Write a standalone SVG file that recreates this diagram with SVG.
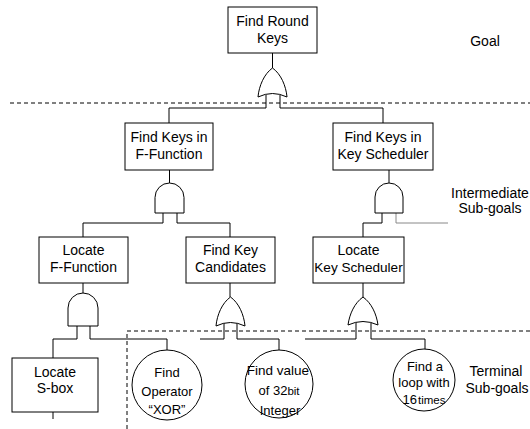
<svg xmlns="http://www.w3.org/2000/svg" width="530" height="429" viewBox="0 0 530 429">
  <style>
    .box { fill: #fff; stroke: #000; stroke-width: 1; }
    .gate { fill: #fff; stroke: #000; stroke-width: 1; }
    .wire { fill: none; stroke: #000; stroke-width: 1; }
    .dash { fill: none; stroke: #000; stroke-width: 1; stroke-dasharray: 4 3; }
    .lbl { font-family: "Liberation Sans", Arial, sans-serif; font-size: 14px; fill: #000; text-anchor: middle; }
    .ctx { font-family: "Liberation Sans", Arial, sans-serif; font-size: 13px; fill: #000; text-anchor: middle; }
    .small { font-size: 11.5px; }
  </style>

  <!-- level separators -->
  <g id="levels">
    <path class="dash" d="M10,103 H530"/>
    <path class="dash" d="M127,429 V331 H530"/>
  </g>

  <!-- connectors -->
  <g id="connectors">
    <path class="wire" d="M272.5,53 V68"/>
    <path class="wire" d="M266,95 V108 H169 V123"/>
    <path class="wire" d="M280,95 V108 H383 V123"/>

    <path class="wire" d="M169.5,170 V183"/>
    <path class="wire" d="M163,213 V223 H83 V237"/>
    <path class="wire" d="M177,213 V223 H230 V237"/>

    <path class="wire" d="M389,170 V183"/>
    <path class="wire" d="M382,213 V223 H363 V237"/>
    <path class="wire" d="M396,213 V223 H448" style="stroke:#888"/>

    <path class="wire" d="M83,283 V293"/>
    <path class="wire" d="M77,326 V339 H53 V358"/>
    <path class="wire" d="M90,326 V339 H167 V350"/>
    <path class="wire" d="M53,412 V419"/>

    <path class="wire" d="M230,283 V297"/>
    <path class="wire" d="M224,323 V339 H200"/>
    <path class="wire" d="M237,323 V339 H279 V350"/>

    <path class="wire" d="M363,283 V297"/>
    <path class="wire" d="M356,322 V339 H305"/>
    <path class="wire" d="M371,322 V339 H425 V350"/>
  </g>

  <!-- gates -->
  <g id="gate-or-top">
    <path class="gate" d="M272.5,68 C264,74 259,86 258,97 Q272.5,90 287,97 C286,86 281,74 272.5,68 Z"/>
  </g>
  <g id="gate-and-ffunc">
    <path class="gate" d="M155,213 V197.5 A14.5,14.5 0 0 1 184,197.5 V213 Z"/>
  </g>
  <g id="gate-and-ksched">
    <path class="gate" d="M375,213 V197 A14,14 0 0 1 403,197 V213 Z"/>
  </g>
  <g id="gate-and-locate">
    <path class="gate" d="M68,326 V308 A15,15 0 0 1 98,308 V326 Z"/>
  </g>
  <g id="gate-or-cand">
    <path class="gate" d="M230.5,297 C222,303 217,315 216,326 Q230.5,319 245,326 C244,315 239,303 230.5,297 Z"/>
  </g>
  <g id="gate-or-locks">
    <path class="gate" d="M363,297 C354.5,303 349.5,314 348,325 Q363,318 378,325 C376.5,314 371.5,303 363,297 Z"/>
  </g>

  <!-- goal -->
  <g id="find-round-keys">
    <rect class="box" x="228" y="7" width="89" height="46"/>
    <text class="lbl" x="272.5" y="26">Find Round</text>
    <text class="lbl" x="272.5" y="43">Keys</text>
  </g>

  <!-- intermediate sub-goals -->
  <g id="find-keys-ffunc">
    <rect class="box" x="125" y="123" width="88" height="47"/>
    <text class="lbl" x="169" y="142">Find Keys in</text>
    <text class="lbl" x="169" y="159">F-Function</text>
  </g>
  <g id="find-keys-ksched">
    <rect class="box" x="333" y="123" width="100" height="47"/>
    <text class="lbl" x="383" y="142">Find Keys in</text>
    <text class="lbl" x="383" y="159">Key Scheduler</text>
  </g>
  <g id="locate-ffunc">
    <rect class="box" x="39" y="237" width="89" height="46"/>
    <text class="lbl" x="83.5" y="255">Locate</text>
    <text class="lbl" x="83.5" y="272">F-Function</text>
  </g>
  <g id="find-key-cand">
    <rect class="box" x="186" y="237" width="89" height="46"/>
    <text class="lbl" x="230.5" y="255">Find Key</text>
    <text class="lbl" x="230.5" y="272">Candidates</text>
  </g>
  <g id="locate-ksched">
    <rect class="box" x="313" y="237" width="91" height="46"/>
    <text class="lbl" x="358.5" y="255">Locate</text>
    <text class="lbl" x="358.5" y="272" style="font-size:13.6px">Key Scheduler</text>
  </g>
  <g id="locate-sbox">
    <rect class="box" x="12" y="358" width="86" height="54"/>
    <text class="lbl" x="55" y="377">Locate</text>
    <text class="lbl" x="55" y="393">S-box</text>
  </g>

  <!-- terminal sub-goals -->
  <g id="find-xor">
    <circle class="box" cx="167" cy="385" r="35"/>
    <text class="ctx" x="167" y="377">Find</text>
    <text class="ctx" x="167" y="396">Operator</text>
    <text class="ctx" x="167" y="414">“XOR”</text>
  </g>
  <g id="find-value">
    <circle class="box" cx="279" cy="384" r="34"/>
    <text class="ctx" x="278" y="375" style="font-size:13.5px">Find value</text>
    <text class="ctx" x="279" y="395">of 32<tspan class="small">bit</tspan></text>
    <text class="ctx" x="280" y="415">Integer</text>
  </g>
  <g id="find-loop">
    <circle class="box" cx="424" cy="380" r="31"/>
    <text class="ctx" x="425" y="371">Find a</text>
    <text class="ctx" x="424" y="387">loop with</text>
    <text class="ctx" x="424" y="404">16<tspan class="small" dx="1">times</tspan></text>
  </g>

  <!-- level labels -->
  <g id="level-labels">
    <text class="lbl" x="485" y="46">Goal</text>
    <text class="lbl" x="490" y="198">Intermediate</text>
    <text class="lbl" x="490" y="213">Sub-goals</text>
    <text class="lbl" x="496" y="376">Terminal</text>
    <text class="lbl" x="497" y="393">Sub-goals</text>
  </g>
</svg>
